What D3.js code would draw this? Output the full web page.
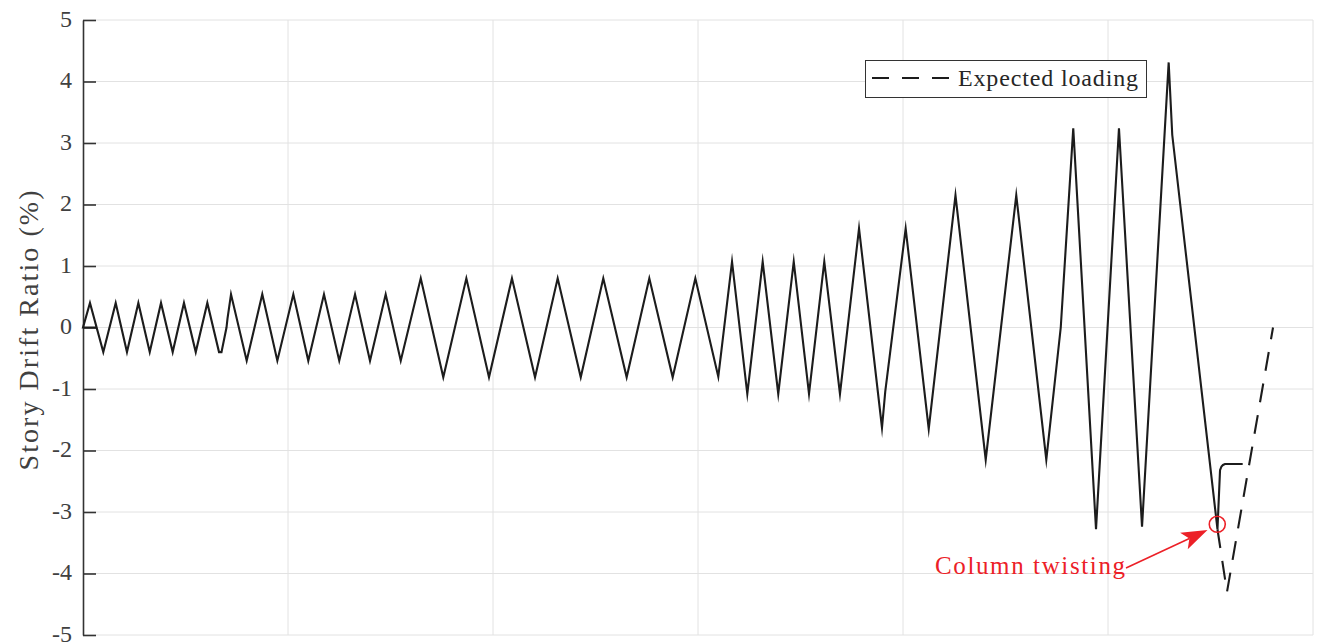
<!DOCTYPE html>
<html>
<head>
<meta charset="utf-8">
<script src="https://cdn.jsdelivr.net/npm/d3@7"></script>
<style>
  html, body { margin: 0; padding: 0; background: #ffffff; }
  svg { display: block; }
</style>
</head>
<body>
<svg id="chart" width="1317" height="643"></svg>
<script>
// ---------- data ----------
const yTicks = [-5, -4, -3, -2, -1, 0, 1, 2, 3, 4, 5];
const yTickLabels = ["-5", "-4", "-3", "-2", "-1", "0", "1", "2", "3", "4", "5"];
const xGrid = [200, 400, 600, 800, 1000, 1200];

// measured story drift (step index, drift %)
const driftX = [13.2, 0, 6.8, 19.8, 31.9, 42.9, 54.0, 65.1, 76.1, 87.5, 98.5, 110.0, 121.3, 132.7, 135.1,
  140.0, 141.0, 144.4, 159.7, 174.9, 189.6, 205.2, 219.8, 235.1, 250.0, 265.4, 280.0, 295.3, 310.0,
  329.5, 351.5, 374.0, 396.1, 418.5, 441.0, 463.1, 485.6, 507.6, 530.4, 552.5, 575.3, 597.4, 619.8,
  633.2, 648.1, 663.1, 678.3, 693.4, 708.3, 723.2, 738.5,
  757.1, 779.5, 782.7, 802.6, 825.1,
  851.2, 880.7, 910.5, 939.8,
  953.9, 966.1, 988.3, 1010.7, 1033.2,
  1059.2, 1062.7, 1106.8, 1109.3, 1110.7, 1112.2, 1114.1, 1131.4];
const driftY = [0, 0, 0.4, -0.4, 0.4, -0.4, 0.4, -0.4, 0.4, -0.4, 0.4, -0.4, 0.4, -0.4, -0.4,
  0, 0.15, 0.54, -0.54, 0.54, -0.54, 0.54, -0.54, 0.54, -0.54, 0.54, -0.54, 0.54, -0.54,
  0.8, -0.81, 0.8, -0.81, 0.8, -0.81, 0.8, -0.81, 0.8, -0.81, 0.8, -0.81, 0.8, -0.8,
  1.07, -1.08, 1.07, -1.08, 1.07, -1.08, 1.07, -1.08,
  1.61, -1.63, -1.04, 1.61, -1.65,
  2.15, -2.15, 2.15, -2.15,
  0.0, 3.24, -3.28, 3.24, -3.24,
  4.31, 3.13, -3.28, -2.32, -2.26, -2.235, -2.22, -2.22];

// expected loading (dashed continuation)
const expectedX = [1106.8, 1116.1, 1161.0];
const expectedY = [-3.28, -4.3, 0];

const legendLabels = ["Expected loading"];
const annotationText = "Column twisting";
const twistPoint = [1106.6, -3.2];

(function () {
// ---------- layout ----------
const mLeft = 83, mRight = 1313, mTop = 20, mBottom = 635;
const svg = d3.select("#chart");
const x = d3.scaleLinear().domain([0, 1200]).range([mLeft, mRight]);
const y = d3.scaleLinear().domain([-5, 5]).range([mBottom, mTop]);
const serif = "'Liberation Serif', 'Times New Roman', serif";
const red = "#ec2027";

// grid
const grid = svg.append("g").attr("stroke", "#e2e2e2").attr("stroke-width", 1);
grid.selectAll("line.h").data(yTicks).enter().append("line")
  .attr("x1", mLeft).attr("x2", mRight)
  .attr("y1", d => y(d)).attr("y2", d => y(d));
grid.selectAll("line.v").data(xGrid).enter().append("line")
  .attr("x1", d => x(d)).attr("x2", d => x(d))
  .attr("y1", mTop).attr("y2", mBottom);

// y axis
const axis = d3.axisLeft(y).tickValues(yTicks)
  .tickFormat((d, i) => yTickLabels[i])
  .tickSizeInner(-13).tickSizeOuter(0).tickPadding(11);
const gA = svg.append("g").attr("transform", `translate(${mLeft},0)`).call(axis);
gA.select(".domain").attr("stroke", "#333").attr("stroke-width", 1.6);
gA.selectAll(".tick line").attr("stroke", "#333").attr("stroke-width", 1.6);
gA.selectAll(".tick text").attr("font-family", serif).attr("font-size", 24)
  .attr("fill", "#404040").attr("dy", "0.27em");

// y label
svg.append("text")
  .attr("transform", `translate(38,${(mTop + mBottom) / 2 + 3}) rotate(-90)`)
  .attr("text-anchor", "middle")
  .attr("font-family", serif).attr("font-size", 28).attr("fill", "#404040")
  .attr("textLength", 280).attr("lengthAdjust", "spacing")
  .text("Story Drift Ratio (%)");

// lines
const line = d3.line().x(d => x(d[0])).y(d => y(d[1]));
svg.append("path")
  .datum(driftX.map((v, i) => [v, driftY[i]]))
  .attr("d", line).attr("fill", "none")
  .attr("stroke", "#1c1c1c").attr("stroke-width", 2.1).attr("stroke-linejoin", "miter")
  .attr("stroke-miterlimit", 10);
svg.append("path")
  .datum(expectedX.map((v, i) => [v, expectedY[i]]))
  .attr("d", line).attr("fill", "none")
  .attr("stroke", "#1c1c1c").attr("stroke-width", 2.1).attr("stroke-dasharray", "19,13");

// legend
const lg = svg.append("g");
lg.append("rect").attr("x", 865.5).attr("y", 60.5).attr("width", 281).attr("height", 37)
  .attr("fill", "#fff").attr("stroke", "#333").attr("stroke-width", 1);
lg.append("line").attr("x1", 872).attr("x2", 951).attr("y1", 78).attr("y2", 78)
  .attr("stroke", "#1c1c1c").attr("stroke-width", 2.1).attr("stroke-dasharray", "17,13");
lg.append("text").attr("x", 958).attr("y", 86)
  .attr("font-family", serif).attr("font-size", 24).attr("fill", "#262626")
  .attr("textLength", 180).attr("lengthAdjust", "spacing")
  .text(legendLabels[0]);

// annotation
const cx = x(twistPoint[0]), cy = y(twistPoint[1]);
svg.append("circle").attr("cx", cx).attr("cy", cy).attr("r", 8)
  .attr("fill", "none").attr("stroke", red).attr("stroke-width", 1.6);
const tail = [1126, 568], tip = [1207.5, 530];
const dx = tip[0] - tail[0], dy = tip[1] - tail[1];
const len = Math.hypot(dx, dy), ux = dx / len, uy = dy / len, px = -uy, py = ux;
const hl = 26, hw = 9, back = 20;
svg.append("line").attr("x1", tail[0]).attr("y1", tail[1])
  .attr("x2", tip[0] - ux * back).attr("y2", tip[1] - uy * back)
  .attr("stroke", red).attr("stroke-width", 1.6);
const bx = tip[0] - ux * hl, by = tip[1] - uy * hl;
const nx = tip[0] - ux * back, ny = tip[1] - uy * back;
svg.append("path")
  .attr("d", `M${tip[0]},${tip[1]} L${bx + px * hw},${by + py * hw} L${nx},${ny} L${bx - px * hw},${by - py * hw} Z`)
  .attr("fill", red);
svg.append("text").attr("x", 935).attr("y", 574)
  .attr("font-family", serif).attr("font-size", 25).attr("fill", red)
  .attr("textLength", 190).attr("lengthAdjust", "spacing")
  .text(annotationText);
})();
</script>
</body>
</html>
